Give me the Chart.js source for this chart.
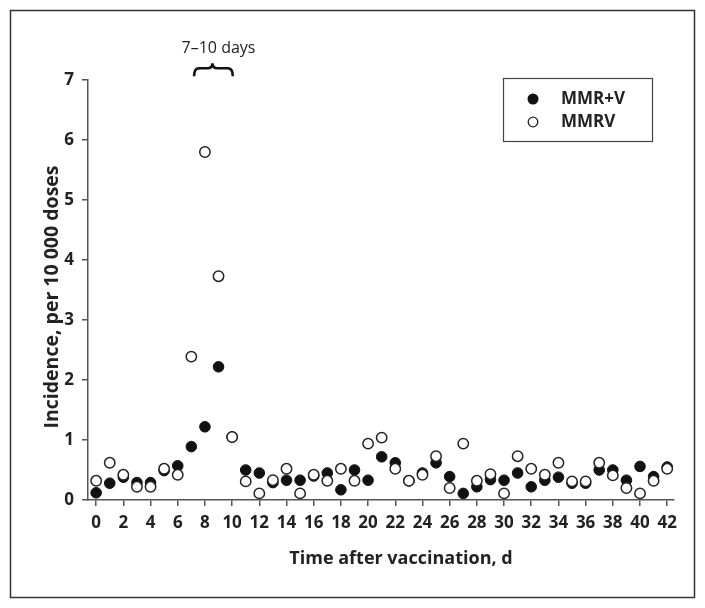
<!DOCTYPE html>
<html>
<head>
<meta charset="utf-8">
<script src="https://cdn.jsdelivr.net/npm/chart.js@4.4.1/dist/chart.umd.min.js"></script>
<style>
  body { margin: 0; background: #fff; }
  canvas { display: block; }
</style>
</head>
<body>
<canvas id="myChart" width="705" height="608"></canvas>
<script>
// days after vaccination
var days = [0, 1, 2, 3, 4, 5, 6, 7, 8, 9, 10, 11, 12, 13, 14, 15, 16, 17, 18, 19, 20,
    21, 22, 23, 24, 25, 26, 27, 28, 29, 30, 31, 32, 33, 34, 35, 36, 37, 38, 39, 40, 41, 42];

// incidence per 10 000 doses
var mmrPlusV = [0.12, 0.28, 0.38, 0.29, 0.29, 0.49, 0.57, 0.89, 1.22, 2.22, 1.05,
    0.50, 0.45, 0.29, 0.33, 0.33, 0.40, 0.45, 0.17, 0.50, 0.33,
    0.72, 0.62, 0.32, 0.45, 0.62, 0.39, 0.11, 0.22, 0.34, 0.33,
    0.45, 0.22, 0.33, 0.38, 0.28, 0.28, 0.50, 0.50, 0.33, 0.56, 0.39, 0.55];
var mmrv = [0.32, 0.62, 0.42, 0.22, 0.22, 0.52, 0.42, 2.39, 5.80, 3.73, 1.05,
    0.31, 0.11, 0.33, 0.52, 0.11, 0.42, 0.32, 0.52, 0.32, 0.94,
    1.04, 0.52, 0.32, 0.42, 0.73, 0.20, 0.94, 0.32, 0.43, 0.11,
    0.73, 0.52, 0.42, 0.62, 0.31, 0.31, 0.62, 0.41, 0.20, 0.11, 0.32, 0.52];

var seriesNames = ["MMR+V", "MMRV"];
var xTicks = [0, 2, 4, 6, 8, 10, 12, 14, 16, 18, 20, 22, 24, 26, 28, 30, 32, 34, 36, 38, 40, 42];
var yTicks = [0, 1, 2, 3, 4, 5, 6, 7];
var peakLabel = "7\u201310 days";
var xTitle = "Time after vaccination, d";
var yTitle = "Incidence, per 10 000 doses";

var fam = "'Open Sans', 'DejaVu Sans', sans-serif";
var axisColor = "#555";

function toPoints(vals) {
    return days.map(function (d, i) { return { x: d, y: vals[i] }; });
}

// frame, titles, legend box and the 7-10 day brace
var decorations = {
    id: "decorations",
    afterDraw: function (chart) {
        var ctx = chart.ctx;
        var xs = chart.scales.x;
        var ys = chart.scales.y;
        ctx.save();

        // outer frame
        ctx.strokeStyle = "#333";
        ctx.lineWidth = 1.5;
        ctx.strokeRect(10.5, 10.5, 684, 587);

        // axis titles
        ctx.fillStyle = "#222";
        ctx.font = "bold 18px " + fam;
        ctx.textAlign = "center";
        ctx.textBaseline = "middle";
        ctx.fillText(xTitle, 401, 559);
        ctx.save();
        ctx.translate(52, 297);
        ctx.rotate(-Math.PI / 2);
        ctx.font = "bold 19.5px " + fam;
        ctx.fillText(yTitle, 0, 0);
        ctx.restore();

        // legend
        ctx.strokeStyle = "#444";
        ctx.lineWidth = 1.2;
        ctx.strokeRect(503.5, 78.5, 149, 63);
        ctx.beginPath();
        ctx.arc(533, 99, 5.5, 0, Math.PI * 2);
        ctx.fillStyle = "#111";
        ctx.fill();
        ctx.beginPath();
        ctx.arc(533, 122, 4.8, 0, Math.PI * 2);
        ctx.fillStyle = "#fff";
        ctx.fill();
        ctx.strokeStyle = "#222";
        ctx.lineWidth = 1.3;
        ctx.stroke();
        ctx.fillStyle = "#222";
        ctx.font = "bold 17px " + fam;
        ctx.textAlign = "left";
        ctx.fillText(seriesNames[0], 561, 99);
        ctx.fillText(seriesNames[1], 561, 122);

        // brace over 7-10 days
        var x1 = xs.getPixelForValue(7.2);
        var x2 = xs.getPixelForValue(10.05);
        var xc = xs.getPixelForValue(8.55);
        var yt = ys.getPixelForValue(7.28);
        var ym = yt + 5;
        var yb = yt + 13;
        ctx.strokeStyle = "#111";
        ctx.lineWidth = 2.6;
        ctx.beginPath();
        ctx.moveTo(x1, yb);
        ctx.quadraticCurveTo(x1, ym, x1 + 5, ym);
        ctx.lineTo(xc - 5, ym);
        ctx.quadraticCurveTo(xc, ym, xc, yt);
        ctx.quadraticCurveTo(xc, ym, xc + 5, ym);
        ctx.lineTo(x2 - 5, ym);
        ctx.quadraticCurveTo(x2, ym, x2, yb);
        ctx.stroke();

        ctx.fillStyle = "#222";
        ctx.font = "16px " + fam;
        ctx.textAlign = "center";
        ctx.textBaseline = "alphabetic";
        ctx.fillText(peakLabel, xs.getPixelForValue(9.0), ys.getPixelForValue(7.3) - 9);

        ctx.restore();
    }
};

var config = {
    type: "scatter",
    data: {
        datasets: [{
            label: seriesNames[0],
            data: toPoints(mmrPlusV),
            backgroundColor: "#111",
            borderColor: "#111",
            borderWidth: 1,
            pointRadius: 5.3,
            order: 1
        }, {
            label: seriesNames[1],
            data: toPoints(mmrv),
            backgroundColor: "#fff",
            borderColor: "#222",
            borderWidth: 1.5,
            pointRadius: 5.2,
            order: 0
        }]
    },
    options: {
        responsive: false,
        animation: false,
        layout: { padding: { left: 20, right: 31, top: 80, bottom: 30 } },
        plugins: {
            legend: { display: false },
            tooltip: { enabled: false }
        },
        scales: {
            x: {
                type: "linear",
                min: -0.6,
                max: 42.5,
                afterBuildTicks: function (scale) {
                    scale.ticks = xTicks.map(function (v) { return { value: v }; });
                },
                afterFit: function (scale) { scale.height = 78; },
                grid: { drawOnChartArea: false, drawTicks: true, tickLength: 6, color: axisColor, lineWidth: 1.5 },
                border: { display: true, color: axisColor, width: 1.5 },
                ticks: { color: "#222", padding: 7, maxRotation: 0, autoSkip: false, font: { family: fam, size: 17, weight: "bold" } }
            },
            y: {
                min: 0,
                max: 7,
                afterBuildTicks: function (scale) {
                    scale.ticks = yTicks.map(function (v) { return { value: v }; });
                },
                afterFit: function (scale) { scale.width = 68; },
                grid: { drawOnChartArea: false, drawTicks: true, tickLength: 6, color: axisColor, lineWidth: 1.5 },
                border: { display: true, color: axisColor, width: 1.5 },
                ticks: { color: "#222", padding: 8, font: { family: fam, size: 17, weight: "bold" } }
            }
        }
    },
    plugins: [decorations]
};

var myChart = new Chart(document.getElementById("myChart"), config);
</script>
</body>
</html>
